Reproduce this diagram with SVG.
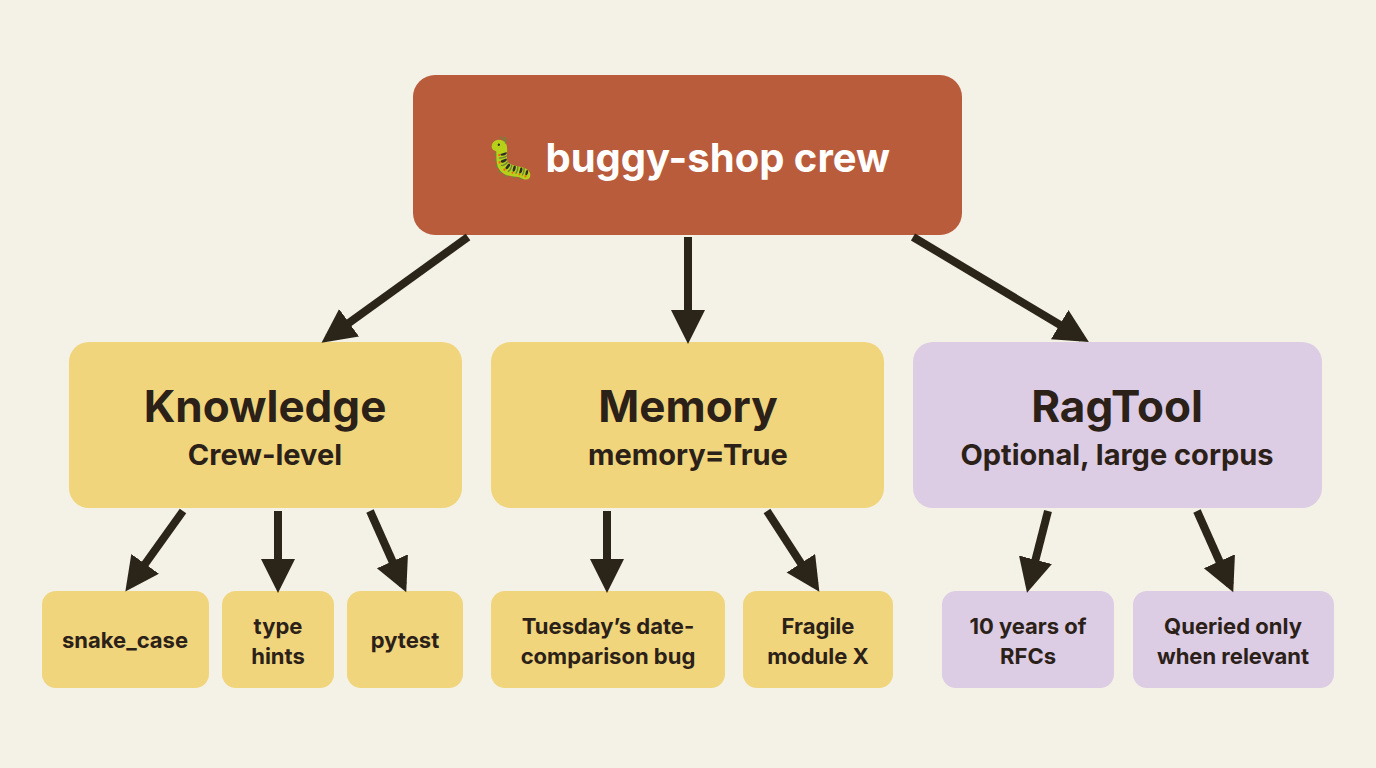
<svg xmlns="http://www.w3.org/2000/svg" width="1376" height="768" viewBox="0 0 1376 768">
<style>
.t{font-family:Inter,"Liberation Sans",sans-serif;font-weight:700;fill:#2b2118;text-anchor:middle}
.y{fill:#f0d57c}.p{fill:#dccce4}
.c line{stroke:#2b2419;stroke-width:8;marker-end:url(#a)}
</style>
<defs><marker id="a" markerUnits="userSpaceOnUse" markerWidth="40" markerHeight="40" refX="26" refY="17" orient="auto"><path d="M0,0 L34,17 L0,34 z" fill="#2b2419"/></marker></defs>
<rect width="1376" height="768" fill="#f4f1e6"/>
<g id="crew"><rect x="413" y="75" width="549" height="160" rx="22" fill="#b95c3b"/><text x="688" y="172" class="t" style="fill:#fff;font-size:40px">🐛 buggy-shop crew</text></g>
<g id="knowledge"><rect x="69" y="342" width="393" height="166" rx="20" class="y"/><text x="265" y="422" class="t" font-size="44">Knowledge</text><text x="265" y="465" class="t" font-size="29">Crew-level</text></g>
<g id="memory"><rect x="491" y="342" width="393" height="166" rx="20" class="y"/><text x="688" y="422" class="t" font-size="44">Memory</text><text x="688" y="465" class="t" font-size="29">memory=True</text></g>
<g id="ragtool"><rect x="913" y="342" width="409" height="166" rx="20" class="p"/><text x="1117" y="422" class="t" font-size="44">RagTool</text><text x="1117" y="465" class="t" font-size="29">Optional, large corpus</text></g>
<g id="snake"><rect x="42" y="591" width="167" height="97" rx="14" class="y"/><text x="125" y="648" class="t" font-size="22">snake_case</text></g>
<g id="hints"><rect x="222" y="591" width="112" height="97" rx="14" class="y"/><text x="278" y="634" class="t" font-size="22">type</text><text x="278" y="664" class="t" font-size="22">hints</text></g>
<g id="pytest"><rect x="347" y="591" width="116" height="97" rx="14" class="y"/><text x="405" y="648" class="t" font-size="22">pytest</text></g>
<g id="tuesday"><rect x="491" y="591" width="234" height="97" rx="14" class="y"/><text x="608" y="634" class="t" font-size="22">Tuesday’s date-</text><text x="608" y="664" class="t" font-size="22">comparison bug</text></g>
<g id="fragile"><rect x="743" y="591" width="150" height="97" rx="14" class="y"/><text x="818" y="634" class="t" font-size="22">Fragile</text><text x="818" y="664" class="t" font-size="22">module X</text></g>
<g id="rfcs"><rect x="942" y="591" width="172" height="97" rx="14" class="p"/><text x="1028" y="634" class="t" font-size="22">10 years of</text><text x="1028" y="664" class="t" font-size="22">RFCs</text></g>
<g id="queried"><rect x="1133" y="591" width="201" height="97" rx="14" class="p"/><text x="1233" y="634" class="t" font-size="22">Queried only</text><text x="1233" y="664" class="t" font-size="22">when relevant</text></g>
<g class="c" id="connectors">
<line x1="468" y1="237" x2="328" y2="338"/>
<line x1="688" y1="237" x2="688" y2="336"/>
<line x1="913" y1="237" x2="1082" y2="338"/>
<line x1="183" y1="511" x2="130" y2="585"/>
<line x1="278" y1="511" x2="278" y2="585"/>
<line x1="370" y1="511" x2="403" y2="585"/>
<line x1="607" y1="511" x2="607" y2="585"/>
<line x1="767" y1="511" x2="815" y2="585"/>
<line x1="1048" y1="511" x2="1029" y2="585"/>
<line x1="1197" y1="511" x2="1230" y2="585"/>
</g>
</svg>
